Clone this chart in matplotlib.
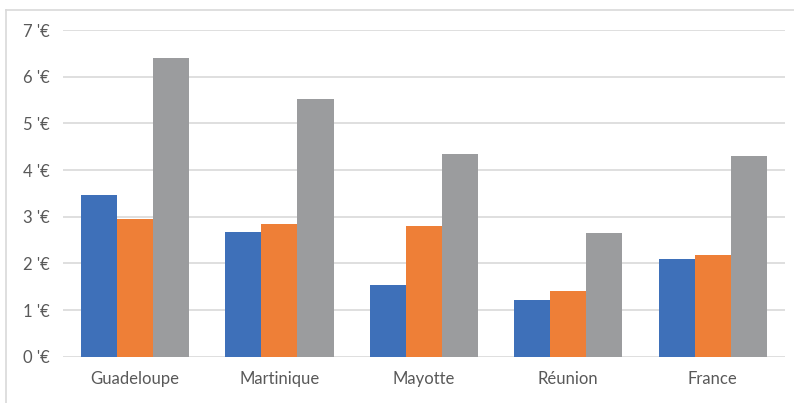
import numpy as np
import matplotlib
matplotlib.use('Agg')
import matplotlib.pyplot as plt
from matplotlib.lines import Line2D

# Values (euros)
categories = ["Guadeloupe", "Martinique", "Mayotte", "Réunion", "France"]
series_1 = [3.46, 2.67, 1.54, 1.22, 2.09]
series_2 = [2.95, 2.84, 2.79, 1.40, 2.17]
series_3 = [6.41, 5.52, 4.34, 2.64, 4.29]
y_ticks = [0, 1, 2, 3, 4, 5, 6, 7]
y_tick_labels = [f"{v} '€" for v in y_ticks]

colors = ["#3E70B9", "#EE7F37", "#9B9C9E"]
text_color = "#595959"

plt.rcParams['font.family'] = ['Lato', 'DejaVu Sans']

fig = plt.figure(figsize=(7.94, 4.03), dpi=100)
ax = fig.add_axes([62.7 / 794, 1 - 356.7 / 403, (785 - 62.7) / 794, (356.7 - 30) / 403])

x = np.arange(len(categories))
width = 0.25
for i, (vals, col) in enumerate(zip([series_1, series_2, series_3], colors)):
    ax.bar(x + (i - 1) * width, vals, width, color=col, zorder=3)

ax.set_xlim(-0.5, len(categories) - 0.5)
ax.set_ylim(0, 7)
ax.set_yticks(y_ticks)
ax.set_yticklabels(y_tick_labels)
ax.set_xticks(x)
ax.set_xticklabels(categories)
ax.tick_params(axis='both', length=0, colors=text_color, labelsize=12)
ax.tick_params(axis='y', pad=9)
ax.tick_params(axis='x', pad=10)
ax.grid(axis='y', color='#D9D9D9', linewidth=1.2, zorder=0)
for s in ax.spines.values():
    s.set_visible(False)

# chart frame (cropped: only top and left edges visible)
fig.add_artist(Line2D([6 / 794, 6 / 794], [0, 1 - 10 / 403], color='#D9D9D9', linewidth=1.2))
fig.add_artist(Line2D([6 / 794, 1], [1 - 10 / 403, 1 - 10 / 403], color='#D9D9D9', linewidth=1.2))

fig.savefig("out.png", dpi=100)
